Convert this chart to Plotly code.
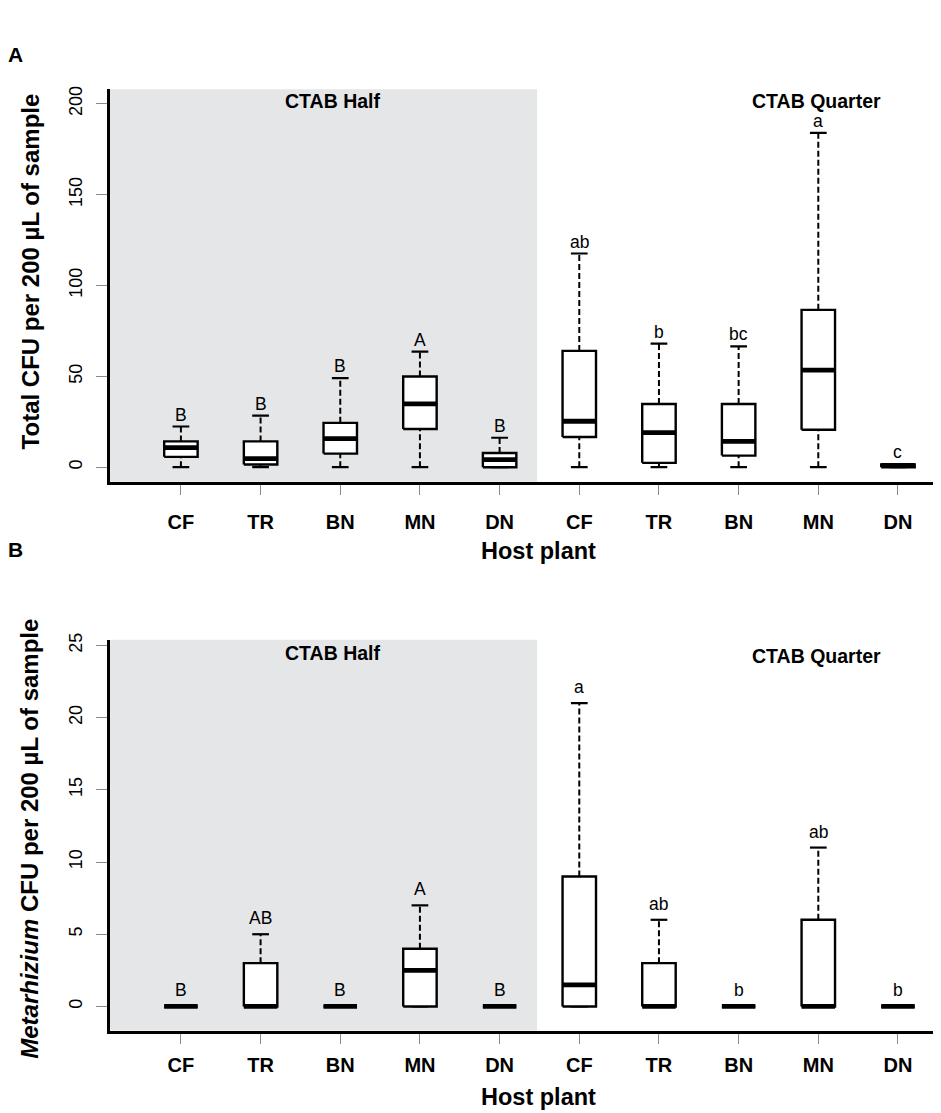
import plotly.graph_objects as go

W, H = 941, 1113
OFF = 8  # default page body margin in the browser

hosts = ["CF", "TR", "BN", "MN", "DN", "CF", "TR", "BN", "MN", "DN"]
positions = list(range(1, 11))
groups = ["CTAB Half", "CTAB Quarter"]

# Panel A: Total CFU per 200 uL
a_low = [0, 0, 0, 0, 0, 0, 0, 0, 0, 0]
a_q1 = [5.7, 1.5, 7.5, 21.0, 0, 16.6, 2.4, 6.4, 20.6, 0]
a_med = [10.8, 4.7, 15.7, 34.8, 4.2, 25.3, 19.0, 14.2, 53.4, 1.0]
a_q3 = [14.2, 14.2, 24.4, 49.9, 7.8, 64.0, 34.8, 34.8, 86.6, 1.5]
a_high = [22.4, 28.4, 49.0, 63.6, 16.2, 117.6, 68.0, 66.5, 184.0, 1.5]
a_letters = ["B", "B", "B", "A", "B", "ab", "b", "bc", "a", "c"]

# Panel B: Metarhizium CFU per 200 uL
b_low = [0, 0, 0, 0, 0, 0, 0, 0, 0, 0]
b_q1 = [0, 0, 0, 0, 0, 0, 0, 0, 0, 0]
b_med = [0, 0, 0, 2.5, 0, 1.5, 0, 0, 0, 0]
b_q3 = [0, 3, 0, 4, 0, 9, 3, 0, 6, 0]
b_high = [0, 5, 0, 7, 0, 21, 6, 0, 11, 0]
b_letters = ["B", "AB", "B", "A", "B", "a", "ab", "b", "ab", "b"]

a_ticks = [0, 50, 100, 150, 200]
b_ticks = [0, 5, 10, 15, 20, 25]

BOXW = 0.42
CAPW = 0.21
FONT = "Liberation Sans, Arial, sans-serif"


def px_x(p):
    return (p - OFF) / W


def px_y(p):
    return 1 - (p - OFF) / H


def box_traces(low, q1, med, q3, high, xa, ya):
    bx, by, mx, my, wx, wy, cx, cy = [], [], [], [], [], [], [], []
    for i, x in enumerate(positions):
        l, r = x - BOXW / 2, x + BOXW / 2
        bx += [l, r, r, l, l, None]
        by += [q1[i], q1[i], q3[i], q3[i], q1[i], None]
        mx += [l, r, None]
        my += [med[i], med[i], None]
        wx += [x, x, None, x, x, None]
        wy += [q3[i], high[i], None, low[i], q1[i], None]
        cl, cr = x - CAPW / 2, x + CAPW / 2
        cx += [cl, cr, None, cl, cr, None]
        cy += [high[i], high[i], None, low[i], low[i], None]
    common = dict(xaxis=xa, yaxis=ya, mode="lines", hoverinfo="skip", showlegend=False)
    return [
        go.Scatter(x=wx, y=wy, line=dict(color="black", width=2, dash="6px,3px"), **common),
        go.Scatter(x=cx, y=cy, line=dict(color="black", width=2.2), **common),
        go.Scatter(x=bx, y=by, fill="toself", fillcolor="white",
                   line=dict(color="black", width=2.4), **common),
        go.Scatter(x=mx, y=my, line=dict(color="black", width=4.8), **common),
    ]


fig = go.Figure()
for t in box_traces(a_low, a_q1, a_med, a_q3, a_high, "x", "y"):
    fig.add_trace(t)
for t in box_traces(b_low, b_q1, b_med, b_q3, b_high, "x2", "y2"):
    fig.add_trace(t)

x0, x1 = 0.11, 10.54
half_end = 5.47

xax = dict(
    domain=[px_x(110), px_x(941)], range=[x0, x1], tickmode="array", tickvals=positions,
    ticktext=hosts, ticks="outside", ticklen=10, tickwidth=1, tickcolor="#8a8a8a",
    showline=True, linecolor="black", linewidth=3, showgrid=False, zeroline=False,
    tickfont=dict(family=FONT, size=20, color="black", weight="bold"),
)
yax = dict(
    ticks="outside", ticklen=11, tickwidth=1, tickcolor="#8a8a8a",
    showline=True, linecolor="black", linewidth=3, showgrid=False, zeroline=False,
    tickangle=-90, tickfont=dict(family=FONT, size=18, color="black"),
    tickmode="array", ticklabelstandoff=7,
)

fig.update_layout(
    width=W, height=H, margin=dict(l=0, r=0, t=0, b=0),
    paper_bgcolor="white", plot_bgcolor="white", showlegend=False,
    xaxis=dict(xax, anchor="y", ticklabelstandoff=10),
    xaxis2=dict(xax, anchor="y2", ticklabelstandoff=4),
    yaxis=dict(yax, anchor="x", domain=[px_y(477.7), px_y(82.7)],
               range=[-8, 208], tickvals=a_ticks),
    yaxis2=dict(yax, anchor="x2", domain=[px_y(1030), px_y(636.7)],
                range=[-1.67, 25.39], tickvals=b_ticks),
)

for xr, yr in (("x", "y domain"), ("x2", "y2 domain")):
    fig.add_shape(type="rect", xref=xr, yref=yr, x0=x0, x1=half_end, y0=0, y1=1,
                  fillcolor="#e5e6e8", line=dict(width=0), layer="below")

ann = []
for letters, high, xr, yr, ys in ((a_letters, a_high, "x", "y", 0),
                                  (b_letters, b_high, "x2", "y2", 4)):
    for i, x in enumerate(positions):
        ann.append(dict(x=x, y=high[i], xref=xr, yref=yr, text=letters[i], showarrow=False,
                        xanchor="center", yanchor="bottom", yshift=ys,
                        font=dict(family=FONT, size=17.5, color="black")))

bold = dict(family=FONT, color="black", weight="bold")


def paper_text(txt, xp, yp, size, angle=0):
    return dict(x=px_x(xp), y=px_y(yp), xref="paper", yref="paper", text=txt,
                showarrow=False, xanchor="center", yanchor="middle", textangle=angle,
                font=dict(bold, size=size))


for txt, xp, yp in ((groups[0], 332, 95), (groups[1], 816, 95),
                    (groups[0], 332, 650), (groups[1], 816, 653)):
    ann.append(paper_text(txt, xp, yp, 19.5))
ann.append(paper_text("Host plant", 538, 547, 23.5))
ann.append(paper_text("Host plant", 538, 1097, 23.5))
ann.append(paper_text("Total CFU per 200 µL of sample", 30, 266, 24, -90))
ann.append(paper_text("<i>Metarhizium</i> CFU per 200 µL of sample", 30, 837, 24, -90))
ann.append(paper_text("A", 16, 48, 21))
ann.append(paper_text("B", 16, 546, 21))

fig.update_layout(annotations=ann)
fig.write_html("out.html")
